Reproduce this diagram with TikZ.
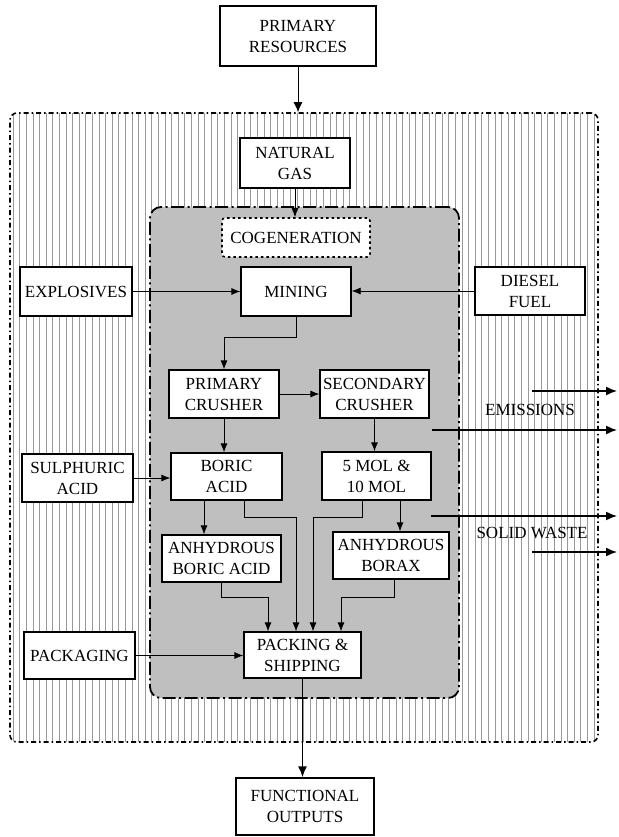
\documentclass[tikz,border=0pt]{standalone}
\usepackage{fontspec}
\setmainfont{Liberation Serif}
\usetikzlibrary{arrows.meta,calc}
\begin{document}
\begin{tikzpicture}[x=1pt,y=-1pt,
  box/.style={draw, line width=1.3pt, fill=white, align=center, inner sep=1pt,
    font=\fontsize{17}{21}\selectfont},
  lbl/.style={align=center, inner sep=1pt, font=\fontsize{17}{21}\selectfont},
  flow/.style={-{Latex[length=9pt,width=7pt]}, line width=0.8pt},
  outflow/.style={-{Latex[length=11pt,width=9pt]}, line width=1.5pt},
  hatch/.style={draw=black!40, line width=0.6pt},
  outerbox/.style={draw, line width=1.6pt, rounded corners=7pt,
    dash pattern=on 5pt off 3pt on 1.5pt off 3pt, inner sep=0pt,
    minimum width=588pt, minimum height=629pt},
  innerbox/.style={draw, fill=black!25, line width=1.8pt, rounded corners=11pt,
    dash pattern=on 13pt off 3.5pt on 2pt off 3.5pt, inner sep=0pt,
    minimum width=309pt, minimum height=491pt},
  cogbox/.style={box, line width=1.6pt, dash pattern=on 2.5pt off 3pt, rounded corners=3pt}
]
\useasboundingbox (0,0) rectangle (618,837);
\fill[white] (0,0) rectangle (618,837);

% outer hatched region
\begin{scope}
  \clip[rounded corners=7pt] (10,113) rectangle (598,742);
  \foreach \x in {13,19.6,...,598} \draw[hatch] (\x,113) -- (\x,742);
\end{scope}
\node[outerbox] (outer) at (304,427.5) {};
\node[innerbox] (inner) at (304.5,452.5) {};

% nodes
\node[box, minimum width=156pt, minimum height=60pt] (pr) at (298,36) {PRIMARY\\RESOURCES};
\node[box, minimum width=110pt, minimum height=50pt] (ng) at (295,163) {NATURAL\\GAS};
\node[cogbox, minimum width=148pt, minimum height=39pt] (cog) at (296,237.5) {COGENERATION};
\node[box, minimum width=110pt, minimum height=49pt] (mining) at (296,291.5) {MINING};
\node[box, minimum width=112pt, minimum height=49pt] (expl) at (76,291.5) {EXPLOSIVES};
\node[box, minimum width=110pt, minimum height=48pt] (diesel) at (530,291) {DIESEL\\FUEL};
\node[box, minimum width=110pt, minimum height=48pt] (pc) at (224,394) {PRIMARY\\CRUSHER};
\node[box, minimum width=109pt, minimum height=48pt] (sc) at (374.5,394) {SECONDARY\\CRUSHER};
\node[box, minimum width=111pt, minimum height=47pt] (ba) at (226.5,476.5) {BORIC\\ACID};
\node[box, minimum width=109pt, minimum height=48pt] (mol) at (376.5,476) {5 MOL \&\\10 MOL};
\node[box, minimum width=111pt, minimum height=48pt] (sa) at (77.5,478) {SULPHURIC\\ACID};
\node[box, minimum width=119pt, minimum height=47pt] (aba) at (221.5,558.5) {ANHYDROUS\\BORIC ACID};
\node[box, minimum width=116pt, minimum height=47pt] (ab) at (391,555.5) {ANHYDROUS\\BORAX};
\node[box, minimum width=117pt, minimum height=46pt] (ps) at (302.5,655) {PACKING \&\\SHIPPING};
\node[box, minimum width=111pt, minimum height=47pt] (pkg) at (79.5,655.5) {PACKAGING};
\node[box, minimum width=138pt, minimum height=57pt] (fo) at (305,806.5) {FUNCTIONAL\\OUTPUTS};

\node[lbl] (em) at (530,410) {EMISSIONS};
\node[lbl] (sw) at (532,533) {SOLID WASTE};

% connectors
\draw[-{Latex[length=10pt,width=9pt]}, line width=1pt] (pr.south) -- (pr.south |- outer.north);
\draw[flow] (ng.south) -- (ng.south |- cog.north);
\draw[flow] (expl.east) -- (mining.west);
\draw[flow] (diesel.west) -- (diesel.west -| mining.east);
\draw[flow] (mining.south) -- ++(0,21) -| (pc.north);
\draw[flow] (pc.east) -- (pc.east -| sc.west);
\draw[flow] (pc.south) -- (pc.south |- ba.north);
\draw[flow] (sc.south) -- (sc.south |- mol.north);
\draw[flow] (sa.east) -- (sa.east -| ba.west);
\coordinate (b1) at ($(ba.south)+(-22.5,0)$);
\draw[flow] (b1) -- (b1 |- aba.north);
\coordinate (m1) at ($(mol.south)+(23.5,0)$);
\draw[flow] (m1) -- (m1 |- ab.north);
\draw[flow] ($(ba.south)+(17.5,0)$) -- ++(0,17) -| ($(ps.north)+(-6.5,0)$);
\draw[flow] ($(mol.south)+(-14.5,0)$) -- ++(0,17) -| ($(ps.north)+(10.5,0)$);
\draw[flow] ($(aba.south)+(-0.5,0)$) -- ++(0,15) -| ($(ps.north)+(-34.5,0)$);
\draw[flow] ($(ab.south)+(3,0)$) -- ++(0,18) -| ($(ps.north)+(38.5,0)$);
\draw[flow] (pkg.east) -- (pkg.east -| ps.west);
\draw[-{Latex[length=11pt,width=9pt]}, line width=1.6pt] (ps.south) -- (ps.south |- fo.north);

% outputs
\coordinate (e1s) at (532,391); \coordinate (e1e) at (617,391);
\coordinate (e2s) at (432,430); \coordinate (e2e) at (617,430);
\coordinate (w1s) at (431,516); \coordinate (w1e) at (617,516);
\coordinate (w2s) at (532,552); \coordinate (w2e) at (617,552);
\draw[outflow] (e1s) -- (e1e);
\draw[outflow] (e2s) -- (e2e);
\draw[outflow] (w1s) -- (w1e);
\draw[outflow] (w2s) -- (w2e);
\end{tikzpicture}
\end{document}
